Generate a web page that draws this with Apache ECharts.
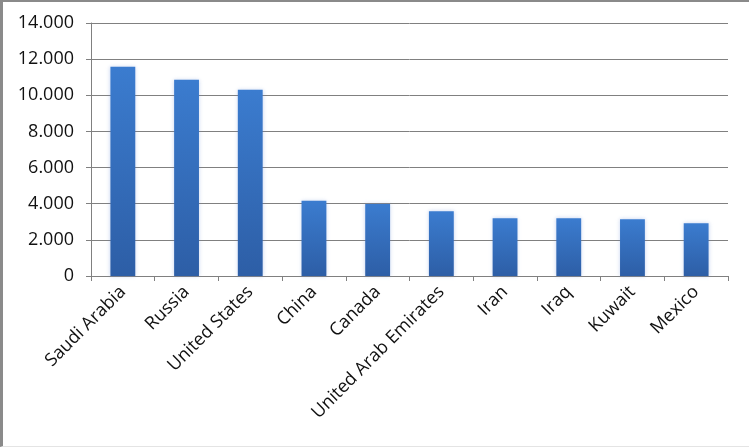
<!DOCTYPE html>
<html>
<head>
<meta charset="utf-8">
<script src="https://cdn.jsdelivr.net/npm/echarts@6/dist/echarts.min.js"></script>
<style>
  html, body { margin: 0; padding: 0; background: #fff; }
  #chart {
    width: 749px; height: 447px; box-sizing: border-box;
    border-left: 3px solid #8a8a8a; border-top: 2px solid #8a8a8a;
    border-bottom: 1px solid #e4e4e4;
  }
</style>
</head>
<body>
<div id="chart"></div>
<script>
  const countries = ["Saudi Arabia", "Russia", "United States", "China", "Canada",
    "United Arab Emirates", "Iran", "Iraq", "Kuwait", "Mexico"];
  const production = [11580, 10860, 10300, 4160, 3990, 3580, 3200, 3200, 3140, 2920];
  const yTicks = [0, 2000, 4000, 6000, 8000, 10000, 12000, 14000];

  // 12000 -> "12.000"
  function fmt(v) {
    return String(v).replace(/\B(?=(\d{3})+(?!\d))/g, ".");
  }

  const chart = echarts.init(document.getElementById("chart"));
  chart.setOption({
    animation: false,
    textStyle: { fontFamily: "Open Sans" },
    grid: { left: 88, right: 21, top: 21, bottom: 170 },
    xAxis: {
      type: "category",
      data: countries,
      axisLine: { lineStyle: { color: "#808080", width: 1 } },
      axisTick: { show: true, length: 5, alignWithLabel: false, lineStyle: { color: "#808080" } },
      axisLabel: { rotate: 45, margin: 13, fontSize: 18, color: "#111", interval: 0 }
    },
    yAxis: {
      type: "value",
      min: yTicks[0],
      max: yTicks[yTicks.length - 1],
      interval: yTicks[1] - yTicks[0],
      axisLine: { show: true, lineStyle: { color: "#808080", width: 1 } },
      axisTick: { show: true, length: 5, lineStyle: { color: "#808080" } },
      splitLine: { lineStyle: { color: "#808080", width: 1 } },
      axisLabel: { fontSize: 18, color: "#111", margin: 17, formatter: fmt }
    },
    series: [{
      type: "bar",
      data: production,
      barWidth: "39%",
      itemStyle: {
        color: new echarts.graphic.LinearGradient(0, 0, 0, 1, [
          { offset: 0, color: "#3b7ccf" },
          { offset: 1, color: "#2d5ea6" }
        ]),
        shadowColor: "rgba(90,130,210,0.35)",
        shadowBlur: 4
      }
    }]
  });
</script>
</body>
</html>
